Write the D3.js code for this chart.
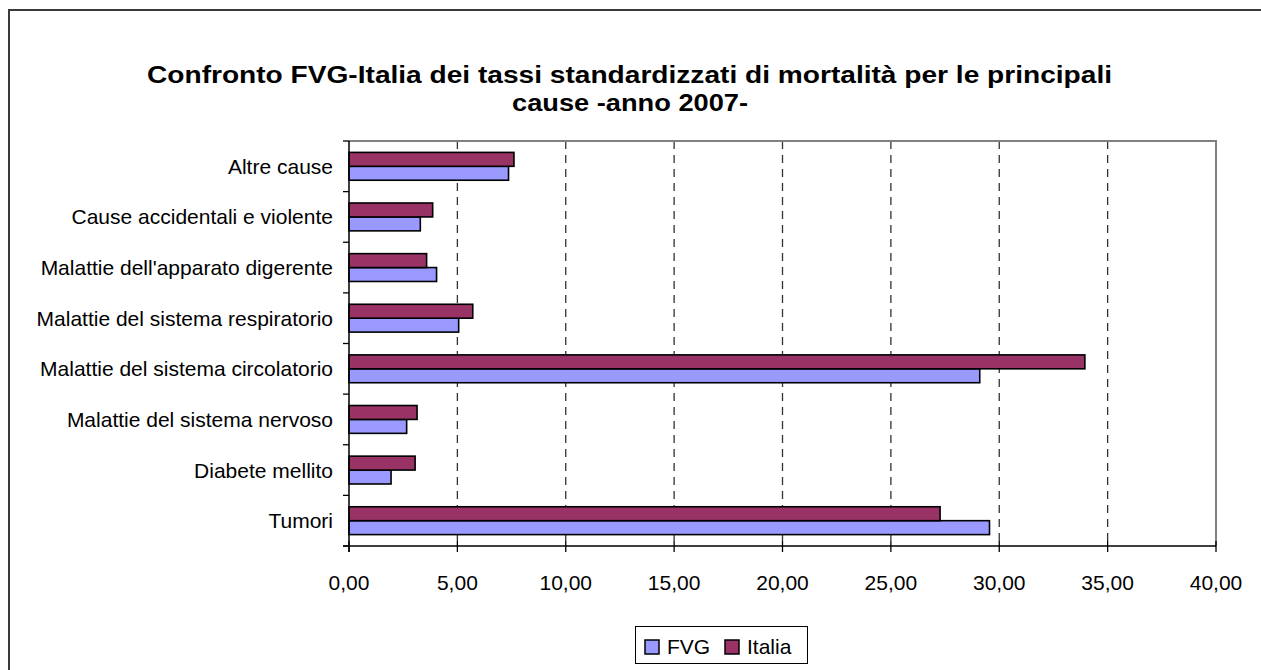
<!DOCTYPE html>
<html>
<head>
<meta charset="utf-8">
<script src="https://cdn.jsdelivr.net/npm/d3@7"></script>
<style>
  html, body { margin: 0; padding: 0; background: #fff; }
  svg { display: block; font-family: Arial, "Liberation Sans", sans-serif; }
</style>
</head>
<body>
<svg id="chart" width="1261" height="670"></svg>
<script>
// Causes of death, listed top to bottom
const categories = [
  "Altre cause",
  "Cause accidentali e violente",
  "Malattie dell'apparato digerente",
  "Malattie del sistema respiratorio",
  "Malattie del sistema circolatorio",
  "Malattie del sistema nervoso",
  "Diabete mellito",
  "Tumori"
];
// Standardised mortality rates, 2007
const fvgValues    = [7.36, 3.29, 4.04, 5.06, 29.10, 2.66, 1.94, 29.55];
const italiaValues = [7.61, 3.86, 3.58, 5.71, 33.95, 3.14, 3.05, 27.27];
const seriesNames  = ["FVG", "Italia"];
const seriesColors = ["#9999FF", "#993366"];
const xTicks = [0, 5, 10, 15, 20, 25, 30, 35, 40];
const titleLines = [
  "Confronto FVG-Italia dei tassi standardizzati di mortalità per le principali",
  "cause -anno 2007-"
];

const svg = d3.select("#chart");
const plot = { left: 349, right: 1216, top: 141, bottom: 546 };

// Chart frame
svg.append("path")
  .attr("d", `M9,672 L9,10 L1262,10`)
  .attr("fill", "none").attr("stroke", "#3a3a3a").attr("stroke-width", 2);

// Title
svg.append("text").attr("x", 629.5).attr("y", 83)
  .attr("text-anchor", "middle").attr("font-weight", "bold").attr("font-size", 23)
  .attr("textLength", 965).attr("lengthAdjust", "spacingAndGlyphs")
  .text(titleLines[0]);
svg.append("text").attr("x", 630).attr("y", 111)
  .attr("text-anchor", "middle").attr("font-weight", "bold").attr("font-size", 23)
  .attr("textLength", 236).attr("lengthAdjust", "spacingAndGlyphs")
  .text(titleLines[1]);

const x = d3.scaleLinear().domain([0, 40]).range([plot.left, plot.right]);
const y = d3.scaleBand().domain(categories).range([plot.top, plot.bottom])
  .paddingInner(0.45).paddingOuter(0.225);
// Italia drawn above FVG inside each group
const ySub = d3.scaleBand().domain(["Italia", "FVG"]).range([0, y.bandwidth()]);

// Dashed vertical gridlines
svg.append("g").selectAll("line")
  .data(xTicks.filter(t => t > 0 && t < 40))
  .join("line")
  .attr("x1", d => x(d)).attr("x2", d => x(d))
  .attr("y1", plot.top).attr("y2", plot.bottom)
  .attr("stroke", "#333").attr("stroke-width", 1.3)
  .attr("stroke-dasharray", "8,6");

// Plot area outline (top and right)
svg.append("path")
  .attr("d", `M${plot.left},${plot.top} L${plot.right},${plot.top} L${plot.right},${plot.bottom}`)
  .attr("fill", "none").attr("stroke", "#808080").attr("stroke-width", 2);

// Bars
const rows = categories.map((c, i) => ({ cat: c, FVG: fvgValues[i], Italia: italiaValues[i] }));
const groups = svg.append("g").selectAll("g").data(rows).join("g")
  .attr("transform", d => `translate(0,${y(d.cat)})`);
seriesNames.forEach((s, si) => {
  groups.append("rect")
    .attr("x", x(0))
    .attr("y", ySub(s))
    .attr("width", d => x(d[s]) - x(0))
    .attr("height", ySub.bandwidth())
    .attr("fill", seriesColors[si])
    .attr("stroke", "#000").attr("stroke-width", 1.6);
});

// Y axis
const yAxisG = svg.append("g");
yAxisG.append("line")
  .attr("x1", plot.left).attr("x2", plot.left)
  .attr("y1", plot.top).attr("y2", plot.bottom + 6)
  .attr("stroke", "#000").attr("stroke-width", 1.5);
const step = (plot.bottom - plot.top) / categories.length;
yAxisG.selectAll("line.tick").data(d3.range(categories.length + 1)).join("line")
  .attr("class", "tick")
  .attr("x1", plot.left - 6).attr("x2", plot.left)
  .attr("y1", i => plot.top + i * step).attr("y2", i => plot.top + i * step)
  .attr("stroke", "#000").attr("stroke-width", 1.3);
yAxisG.selectAll("text").data(categories).join("text")
  .attr("x", 333)
  .attr("y", d => y(d) + y.bandwidth() / 2)
  .attr("dy", "0.36em")
  .attr("text-anchor", "end")
  .attr("font-size", 21)
  .attr("fill", "#000")
  .text(d => d);

// X axis
const xAxisG = svg.append("g");
xAxisG.append("line")
  .attr("x1", plot.left - 6).attr("x2", plot.right)
  .attr("y1", plot.bottom).attr("y2", plot.bottom)
  .attr("stroke", "#000").attr("stroke-width", 1.5);
xAxisG.selectAll("line.tick").data(xTicks).join("line")
  .attr("class", "tick")
  .attr("x1", d => x(d)).attr("x2", d => x(d))
  .attr("y1", plot.bottom - 5).attr("y2", plot.bottom + 6)
  .attr("stroke", "#000").attr("stroke-width", 1.3);
const fmt = d => d3.format(".2f")(d).replace(".", ",");
xAxisG.selectAll("text").data(xTicks).join("text")
  .attr("x", d => x(d))
  .attr("y", 590)
  .attr("text-anchor", "middle")
  .attr("font-size", 21)
  .attr("fill", "#000")
  .text(fmt);

// Legend
const leg = svg.append("g");
leg.append("rect").attr("x", 635.5).attr("y", 626.5).attr("width", 172).attr("height", 37)
  .attr("fill", "#fff").attr("stroke", "#000").attr("stroke-width", 1);
const legX = [645, 725];
seriesNames.forEach((s, i) => {
  leg.append("rect").attr("x", legX[i]).attr("y", 640).attr("width", 14).attr("height", 14)
    .attr("fill", seriesColors[i]).attr("stroke", "#000").attr("stroke-width", 1.5);
  leg.append("text").attr("x", legX[i] + 22).attr("y", 654)
    .attr("font-size", 21).attr("fill", "#000").text(s);
});
</script>
</body>
</html>
